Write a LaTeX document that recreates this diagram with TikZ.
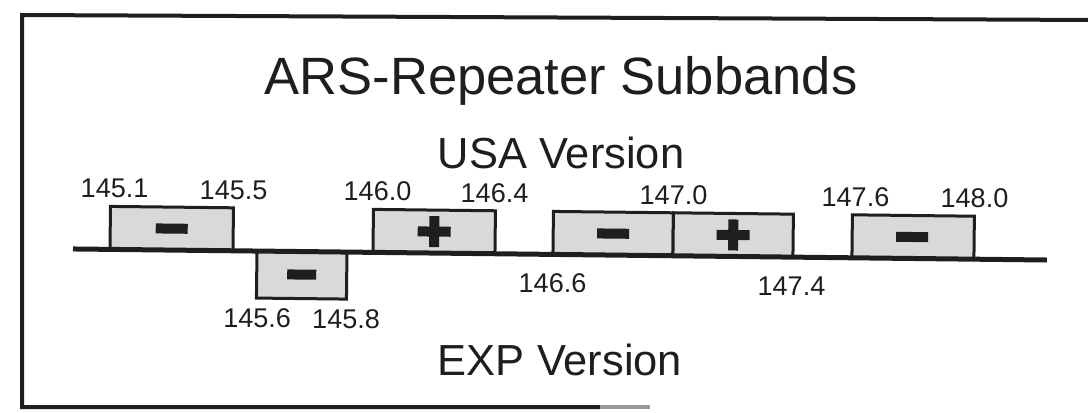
\documentclass[tikz,border=0pt]{standalone}
\usepackage{fontspec}
\setmainfont{Liberation Sans}
\definecolor{ink}{HTML}{1E1E1E}
\definecolor{bandfill}{HTML}{D9D9D9}
\tikzset{
  titletext/.style={font=\fontsize{39.4}{44}\selectfont, text=ink, inner sep=0pt, anchor=base},
  vertext/.style={font=\fontsize{32.6}{36}\selectfont, text=ink, inner sep=0pt, anchor=base},
  numtext/.style={font=\fontsize{20.3}{23}\selectfont, text=ink, inner sep=0pt, anchor=base},
  bandbox/.style={draw=ink, line width=2.25pt, fill=bandfill},
  signfill/.style={fill=ink},
  bandline/.style={draw=ink, line width=3.75pt},
  framestyle/.style={draw=ink, line width=3pt},
}
\begin{document}
\begin{tikzpicture}[x=0.75pt, y=-0.75pt]
\useasboundingbox (0,0) rectangle (1088,412);
% frame
\draw[framestyle] (1095,20) -- (22,15) -- (22,407) -- (600,407);
\draw[framestyle, draw=ink!45] (600,407) -- (650,407);
% titles
\node[titletext] (title) at (561,94) {ARS-Repeater Subbands};
\node[vertext] (usa) at (561,168) {USA Version};
\node[vertext] (exp) at (560,375) {EXP Version};
\begin{scope}[rotate around={-0.65:(75,249)}]
  % boxes
  \draw[bandbox] (110,206) rectangle (233,249);
  \draw[bandbox] (257,249) rectangle (347,296);
  \draw[bandbox] (373,206) rectangle (495,249);
  \draw[bandbox] (553,206) rectangle (673,249);
  \draw[bandbox] (673,206) rectangle (793,249);
  \draw[bandbox] (852,206) rectangle (974,249);
  % main line
  \coordinate (lineL) at (73,249);
  \coordinate (lineR) at (1047,249);
  \draw[bandline] (lineL) -- (lineR);
  % signs
  \fill[signfill] (155.5,222.5) rectangle (187.5,232.5);
  \fill[signfill] (287.5,267) rectangle (316.5,277);
  \fill[signfill] (417.5,222.5) rectangle (450.5,232.5);
  \fill[signfill] (429,212) rectangle (439,243);
  \fill[signfill] (597,222.5) rectangle (629,232.5);
  \fill[signfill] (716.5,222.5) rectangle (749.5,232.5);
  \fill[signfill] (728,212) rectangle (738,243);
  \fill[signfill] (896,222.5) rectangle (928,232.5);
  % labels
  \node[numtext] (l1451) at (114,197.5) {145.1};
  \node[numtext] (l1455) at (233,197.5) {145.5};
  \node[numtext] (l1460) at (377,197.5) {146.0};
  \node[numtext] (l1464) at (494,197.5) {146.4};
  \node[numtext] (l1470) at (673,197.5) {147.0};
  \node[numtext] (l1476) at (855,197.5) {147.6};
  \node[numtext] (l1480) at (974,197.5) {148.0};
  \node[numtext] (l1456) at (258,325) {145.6};
  \node[numtext] (l1458) at (347,325) {145.8};
  \node[numtext] (l1466) at (553,287) {146.6};
  \node[numtext] (l1474) at (792,287) {147.4};
\end{scope}
\end{tikzpicture}
\end{document}
